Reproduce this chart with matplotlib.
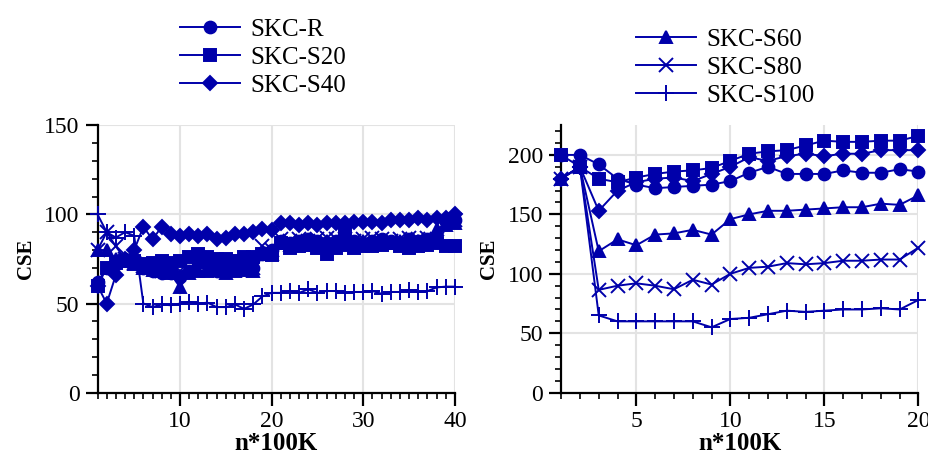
import matplotlib
matplotlib.use("Agg")
import matplotlib.pyplot as plt
from matplotlib.ticker import MultipleLocator

plt.rcParams['font.family'] = ['Liberation Serif', 'DejaVu Serif']

BLUE = "#0000aa"

# left panel: n = 1..40
n_left = list(range(1, 41))
skc_r_left = [62, 70, 72, 75, 74, 70, 68, 67, 67, 65, 68, 73, 72, 68, 70, 71, 70, 70, 78, 80,
              85, 84, 85, 86, 85, 84, 85, 86, 85, 84, 85, 86, 85, 84, 86, 85, 86, 85, 96, 97]
skc_s20_left = [60, 70, 73, 74, 74, 72, 73, 74, 73, 74, 76, 78, 76, 75, 75, 74, 76, 76, 78, 77,
                84, 81, 82, 83, 81, 78, 81, 92, 81, 82, 82, 83, 84, 82, 81, 82, 83, 84, 82, 82]
skc_s40_left = [60, 50, 66, 75, 80, 93, 86, 93, 89, 88, 89, 88, 89, 86, 87, 89, 89, 90, 92, 91,
                95, 95, 94, 95, 94, 95, 95, 95, 96, 96, 96, 95, 97, 97, 97, 98, 97, 98, 98, 100]
skc_s60_left = [80, 80, 75, 74, 72, 70, 69, 68, 67, 59, 67, 68, 68, 69, 67, 68, 69, 68, 78, 78,
                84, 83, 84, 83, 84, 85, 84, 83, 84, 85, 84, 85, 84, 85, 84, 85, 85, 92, 94, 95]
skc_s80_left = [80, 90, 82, 75, 73, 71, 70, 68, 69, 68, 69, 70, 71, 70, 70, 71, 71, 70, 82, 80,
                86, 85, 86, 85, 86, 87, 86, 86, 85, 86, 87, 86, 85, 86, 87, 86, 87, 86, 96, 97]
skc_s100_left = [100, 90, 87, 90, 88, 50, 48, 49.5, 49, 50, 51, 50, 50.5, 48, 48, 49.5, 47, 49.5, 54, 56,
                 56, 57, 56, 58, 56, 57, 57, 56, 56.5, 56.5, 57, 55.5, 56.5, 56.5, 57.5, 56.5, 57, 59, 59.5, 59.5]

# right panel: n = 1..20
n_right = list(range(1, 21))
skc_r_right = [200, 200, 192, 180, 175, 172, 173, 174, 175, 178, 185, 190, 184, 184, 184, 187, 185, 185, 188, 186]
skc_s20_right = [200, 190, 180, 177, 181, 184, 186, 187, 189, 195, 201, 203, 204, 208, 212, 211, 211, 212, 212, 216]
skc_s40_right = [180, 190, 153, 170, 177, 180, 181, 178, 184, 190, 198, 195, 199, 201, 199, 201, 201, 204, 204, 204]
skc_s60_right = [180, 190, 119, 129, 124, 133, 134, 137, 133, 146, 150, 153, 153, 154, 155, 156, 156, 159, 158, 166]
skc_s80_right = [180, 190, 86.5, 90, 92, 90, 87, 95, 91, 100, 105, 106, 109, 108, 109, 111, 111, 112, 112, 122]
skc_s100_right = [180, 190, 65, 60, 60, 60, 60, 60, 55, 62, 63, 66, 69, 68, 69, 70, 70, 71, 70, 78]

labels = ["SKC-R", "SKC-S20", "SKC-S40", "SKC-S60", "SKC-S80", "SKC-S100"]
markers = ["o", "s", "D", "^", "x", "+"]
sizes = [8.5, 8.5, 7, 8.5, 9.5, 11]

left_series = [skc_r_left, skc_s20_left, skc_s40_left, skc_s60_left, skc_s80_left, skc_s100_left]
right_series = [skc_r_right, skc_s20_right, skc_s40_right, skc_s60_right, skc_s80_right, skc_s100_right]

fig = plt.figure(figsize=(9.29, 4.62), dpi=100)
ax1 = fig.add_axes([0.105, 0.150, 0.3846, 0.579])
ax2 = fig.add_axes([0.604, 0.150, 0.3846, 0.579])


def style_axis(ax, xmax, ymax, xmajor):
    ax.set_xlim(1, xmax)
    ax.set_ylim(0, ymax)
    ax.xaxis.set_major_locator(MultipleLocator(xmajor))
    ax.xaxis.set_minor_locator(MultipleLocator(1))
    ax.yaxis.set_major_locator(MultipleLocator(50))
    ax.yaxis.set_minor_locator(MultipleLocator(10))
    ax.grid(True, which="major", color="#e3e3e3", linewidth=1.5, zorder=0)
    ax.set_axisbelow(True)
    for side in ["top", "right"]:
        ax.spines[side].set_visible(False)
    for side in ["left", "bottom"]:
        ax.spines[side].set_linewidth(1.6)
    ax.tick_params(which="major", direction="out", length=9, width=1.6, labelsize=17, pad=4)
    ax.tick_params(which="minor", direction="out", length=4.5, width=1.2)
    ax.set_xlabel("n*100K", fontsize=18, fontweight="bold", labelpad=0)
    ax.set_ylabel("CSE", fontsize=15, fontweight="bold", labelpad=6)


handles = []
for series, lab, m, s in zip(left_series, labels, markers, sizes):
    ax1.plot(n_left, series, color=BLUE, marker=m, markersize=s, linewidth=1.4,
             markeredgewidth=1.4, clip_on=False, zorder=3)
for series, lab, m, s in zip(right_series, labels, markers, sizes):
    h, = ax2.plot(n_right, series, color=BLUE, marker=m, markersize=s, linewidth=1.4,
                  markeredgewidth=1.4, clip_on=False, zorder=3, label=lab)
    handles.append(h)

style_axis(ax1, 40, 150, 10)
style_axis(ax2, 20, 225, 5)

leg_kw = dict(frameon=False, fontsize=18, handlelength=2.4, handletextpad=0.4,
              labelspacing=0.23, borderaxespad=0, borderpad=0)
fig.legend(handles=handles[:3], loc="upper left", bbox_to_anchor=(0.1938, 0.961), **leg_kw)
fig.legend(handles=handles[3:], loc="upper left", bbox_to_anchor=(0.6846, 0.939), **leg_kw)

fig.savefig("out.png", dpi=100)
